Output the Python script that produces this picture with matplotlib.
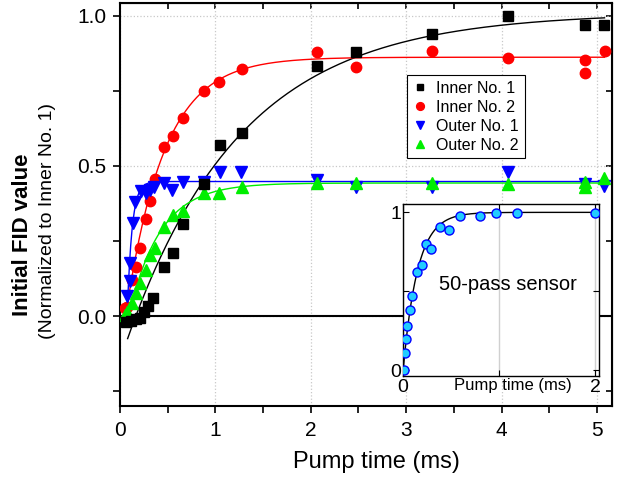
import numpy as np
import matplotlib
matplotlib.use("Agg")
import matplotlib.pyplot as plt
from matplotlib.ticker import MultipleLocator

plt.rcParams['font.family'] = ['Liberation Sans', 'DejaVu Sans']

# ---- data (pump time in ms, normalized FID) ----
inner1_t = [0.065, 0.12, 0.17, 0.21, 0.25, 0.29, 0.35, 0.46, 0.56, 0.66, 0.88,
            1.05, 1.28, 2.07, 2.47, 3.27, 4.07, 4.88, 5.07]
inner1_y = [-0.02, -0.015, -0.01, -0.005, 0.015, 0.035, 0.06, 0.163, 0.21, 0.306,
            0.44, 0.568, 0.609, 0.834, 0.878, 0.939, 0.998, 0.968, 0.97]

inner2_t = [0.05, 0.077, 0.122, 0.168, 0.21, 0.269, 0.314, 0.363, 0.461, 0.559,
            0.657, 0.877, 1.04, 1.28, 2.07, 2.47, 3.27, 4.07, 4.88, 4.88, 5.08]
inner2_y = [0.027, 0.03, 0.12, 0.164, 0.227, 0.324, 0.384, 0.457, 0.562, 0.598,
            0.66, 0.749, 0.778, 0.823, 0.878, 0.829, 0.884, 0.859, 0.852, 0.811, 0.883]

outer1_t = [0.07, 0.10, 0.11, 0.14, 0.16, 0.22, 0.27, 0.31, 0.36, 0.46, 0.55,
            0.66, 0.88, 1.05, 1.27, 2.07, 2.47, 3.27, 4.07, 4.88, 5.07]
outer1_y = [0.065, 0.115, 0.175, 0.31, 0.38, 0.415, 0.41, 0.42, 0.43, 0.444, 0.419,
            0.448, 0.446, 0.479, 0.479, 0.453, 0.431, 0.431, 0.479, 0.44, 0.433]

outer2_t = [0.05, 0.077, 0.122, 0.168, 0.21, 0.269, 0.314, 0.363, 0.461, 0.559,
            0.664, 0.88, 1.04, 1.28, 2.07, 2.47, 3.27, 4.07, 4.88, 4.88, 5.07]
outer2_y = [0.005, 0.014, 0.042, 0.076, 0.109, 0.153, 0.203, 0.228, 0.298, 0.337,
            0.349, 0.411, 0.409, 0.429, 0.444, 0.444, 0.444, 0.44, 0.43, 0.445, 0.459]

# exponential fits: y = A - B*exp(-(t - t0)/tau), drawn from t_start to 5.08 ms
fit_A = [1.01, 0.862, 0.448, 0.443]
fit_B = [1.16, 1.0, 0.448, 0.443]
fit_t0 = [0.0, 0.0, 0.075, 0.09]
fit_tau = [1.2, 0.4, 0.05, 0.33]
fit_start = [0.08, 0.05, 0.075, 0.07]

# inset: 50-pass sensor
sensor_t = [0.01, 0.018, 0.031, 0.045, 0.073, 0.094, 0.142, 0.195, 0.24, 0.288,
            0.385, 0.48, 0.587, 0.795, 0.97, 1.19, 2.0]
sensor_y = [0.0, 0.11, 0.196, 0.28, 0.38, 0.47, 0.62, 0.667, 0.80, 0.77,
            0.91, 0.886, 0.975, 0.979, 0.995, 0.995, 0.998]
sensor_tau = 0.15

labels = ["Inner No. 1", "Inner No. 2", "Outer No. 1", "Outer No. 2"]
colors = ["black", "#ff0000", "#0000ff", "#00ee00"]
markers = ["s", "o", "v", "^"]
msizes = [6.5, 7.5, 8, 8]
series_t = [inner1_t, inner2_t, outer1_t, outer2_t]
series_y = [inner1_y, inner2_y, outer1_y, outer2_y]

fig = plt.figure(figsize=(6.25, 4.8), dpi=100)
ax = fig.add_axes([0.192, 0.154, 0.787, 0.840])

ax.axhline(0, color="black", lw=1.5, zorder=2)

for i in range(4):
    tt = np.linspace(fit_start[i], 5.08, 400)
    yy = fit_A[i] - fit_B[i] * np.exp(-(tt - fit_t0[i]) / fit_tau[i])
    ax.plot(tt, yy, color=colors[i], lw=1, zorder=2)
handles = {}
for i in [1, 2, 3, 0]:
    h, = ax.plot(series_t[i], series_y[i], ls="none", marker=markers[i],
                 ms=msizes[i], color=colors[i], mec=colors[i], label=labels[i], zorder=3)
    handles[i] = h

ax.set_xlim(0, 5.157)
ax.set_ylim(-0.30, 1.043)
ax.xaxis.set_major_locator(MultipleLocator(1))
ax.xaxis.set_minor_locator(MultipleLocator(0.5))
ax.set_yticks([0, 0.5, 1.0])
ax.set_yticklabels(["0.0", "0.5", "1.0"])
ax.yaxis.set_minor_locator(MultipleLocator(0.25))
ax.tick_params(which="both", direction="out", length=5, width=1.2, labelsize=15)
ax.tick_params(axis="x", pad=6)
ax.tick_params(axis="y", pad=5)
ax.grid(True, which="major", color="#c8c8c8", ls=":", lw=0.9)
for s in ax.spines.values():
    s.set_linewidth(1.5)

top = ax.secondary_xaxis("top")
top.xaxis.set_major_locator(MultipleLocator(0.5))
top.tick_params(direction="in", length=4, width=1.2, labeltop=False)
right = ax.secondary_yaxis("right")
right.yaxis.set_major_locator(MultipleLocator(0.25))
right.tick_params(direction="in", length=4, width=1.2, labelright=False)

leg = ax.legend(handles=[handles[i] for i in range(4)], loc="upper left",
                bbox_to_anchor=(0.583, 0.821), fontsize=11.5, markerscale=0.75,
                frameon=True, fancybox=False, edgecolor="black", framealpha=1,
                handlelength=1.0, handletextpad=0.5, labelspacing=0.25,
                borderpad=0.35, borderaxespad=0)
leg.get_frame().set_linewidth(0.8)

fig.text(0.603, 0.0375, "Pump time (ms)", fontsize=17, ha="center", va="center")
fig.text(0.036, 0.51, "Initial FID value", fontsize=16, fontweight="bold",
         rotation=90, ha="center", va="center")
fig.text(0.076, 0.54, "(Normalized to Inner No. 1)", fontsize=14,
         rotation=90, ha="center", va="center")

# ---- inset ----
axi = fig.add_axes([0.645, 0.217, 0.3136, 0.357])
axi.set_facecolor("white")
ti = np.linspace(0, 2.03, 300)
axi.plot(ti, 1 - np.exp(-ti / sensor_tau), color="black", lw=1, zorder=2)
axi.plot(sensor_t, sensor_y, ls="none", marker="o", ms=6.5, mfc="#22ccff",
         mec="#0000ff", mew=1, zorder=3)
axi.set_xlim(0, 2.04)
axi.set_ylim(-0.036, 1.05)
axi.set_xticks([0, 1, 2])
axi.set_xticklabels(["0", "", "2"])
axi.set_yticks([0, 0.5, 1])
axi.set_yticklabels(["0", "", "1"])
axi.tick_params(direction="in", length=4, labelsize=14, top=True, right=True)
axi.tick_params(axis="x", pad=2)
axi.tick_params(axis="y", pad=1.5)
axi.grid(True, axis="x", color="#d0d0d0", lw=1)
axi.text(0.56, -0.058, "Pump time (ms)", transform=axi.transAxes, fontsize=12,
         ha="center", va="center")
axi.text(1.09, 0.54, "50-pass sensor", fontsize=14.5, ha="center", va="center")
for s in axi.spines.values():
    s.set_linewidth(1)

fig.savefig("out.png", dpi=100)
